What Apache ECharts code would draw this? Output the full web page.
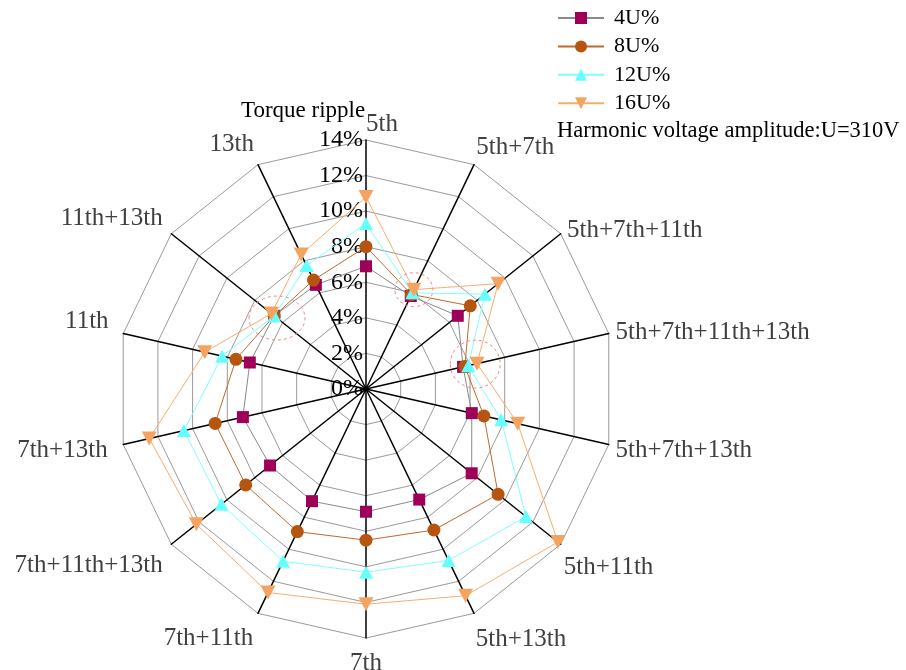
<!DOCTYPE html>
<html><head><meta charset="utf-8">
<script src="https://cdn.jsdelivr.net/npm/echarts@6/dist/echarts.min.js"></script>
<style>html,body{margin:0;padding:0;background:#fff}#c{width:906px;height:670px}</style>
</head><body><div id="c"></div>
<script>
// ---- data ----
const categories = ['5th','5th+7th','5th+7th+11th','5th+7th+11th+13th','5th+7th+13th','5th+11th','5th+13th',
  '7th','7th+11th','7th+11th+13th','7th+13th','11th','11th+13th','13th'];
const seriesNames = ['4U%','8U%','12U%','16U%'];
const u4  = [6.9, 5.8, 6.6, 5.6, 6.1, 7.6, 6.9, 6.9, 7.0, 6.9, 7.1, 6.7, 6.6, 6.5];
const u8  = [8.0, 5.9, 7.5, 5.7, 6.8, 9.5, 8.8, 8.5, 8.9, 8.65, 8.7, 7.5, 6.6, 6.8];
const u12 = [9.3, 6.0, 8.55, 5.9, 7.8, 11.5, 10.7, 10.3, 10.75, 10.4, 10.5, 8.3, 6.6, 7.7];
const u16 = [10.8, 6.2, 9.5, 6.4, 8.75, 13.8, 12.9, 12.1, 12.7, 12.2, 12.5, 9.3, 6.8, 8.4];
const axisMin = 0, axisMax = 14, axisStep = 2;
const titleText = 'Torque ripple';
const noteText = 'Harmonic voltage amplitude:U=310V';
// highlighted clusters (category index, value on that axis)
const highlightCats = [1, 3, 12];
const highlightVals = [6.2, 6.3, 6.4];

// ---- style ----
const FONT = 'Liberation Serif';
const nameLayout = [
  {gap:3,  align:'left',   va:'bottom'},
  {gap:5,  align:'left',   va:'bottom'},
  {gap:8,  align:'left',   va:'top', lh:4},
  {gap:7,  align:'left',   va:'middle'},
  {gap:7,  align:'left',   va:'top', lh:9},
  {gap:4,  align:'left',   va:'top',    pad:[8,0,0,0]},
  {gap:4,  align:'left',   va:'top',    pad:[10,0,0,0]},
  {gap:13, align:'center', va:'top'},
  {gap:11, align:'right',  va:'top',    pad:[3,0,0,0]},
  {gap:11, align:'right',  va:'top',    pad:[2,0,0,0]},
  {gap:16, align:'right',  va:'top', lh:4},
  {gap:15, align:'right',  va:'bottom', lh:18},
  {gap:11, align:'right',  va:'bottom', lh:16},
  {gap:9,  align:'right',  va:'bottom'}
];
const seriesStyle = [
  {symbol:'rect', size:12, rotate:0, marker:'#9E0059', line:'#8a8a8a'},
  {symbol:'circle', size:13, rotate:0, marker:'#B5550F', line:'#C0692E'},
  {symbol:'triangle', size:[14,13], rotate:0, marker:'#66FFFF', line:'#7FFFFF'},
  {symbol:'triangle', size:[15,14], rotate:180, marker:'#F4A460', line:'#F6AE70'}
];
const highlightSize = [[19,17],[25,24],[28,22]];

// ---- build ----
const seriesValues = [u4, u8, u12, u16];
// radar runs counter-clockwise; reorder so categories run clockwise from the top
const order = [0].concat(categories.slice(1).map((_, k) => categories.length - 1 - k));
const toRadarIdx = i => i === 0 ? 0 : categories.length - i;

const indicator = order.map(i => {
  const L = nameLayout[i];
  const ts = {align: L.align, verticalAlign: L.va};
  if (L.pad) ts.padding = L.pad;
  if (L.lh) ts.lineHeight = L.lh;
  return {
    name: categories[i], min: axisMin, max: axisMax,
    nameGap: L.gap,
    nameMoveOverlap: false,
    nameTextStyle: ts,
    axisLabel: i === 0 ? {show: true, color: '#000', fontSize: 24, fontFamily: FONT, margin: 3,
                         formatter: v => v + '%'} : {show: false}
  };
});

const series = [];
seriesNames.forEach((n, k) => {
  const s = seriesStyle[k];
  series.push({
    type: 'line', name: n, data: [], xAxisIndex: 0, yAxisIndex: 0,
    symbol: s.symbol, symbolSize: s.size, symbolRotate: s.rotate,
    itemStyle: {color: s.marker}, lineStyle: {color: s.line, width: 1}
  });
});
seriesNames.forEach((n, k) => {
  const s = seriesStyle[k];
  series.push({
    type: 'radar', name: n, z: 3 + k,
    symbol: s.symbol, symbolSize: s.size, symbolRotate: s.rotate,
    itemStyle: {color: s.marker},
    lineStyle: {color: s.line, width: 1},
    data: [{name: n, value: order.map(i => seriesValues[k][i])}]
  });
});

const chart = echarts.init(document.getElementById('c'), null, {renderer: 'canvas'});
chart.setOption({
  animation: false,
  backgroundColor: '#fff',
  title: [
    {text: titleText, left: 236, top: 94, padding: 5,
     textStyle: {fontFamily: FONT, fontSize: 23, fontWeight: 'normal', color: '#000'}},
    {text: noteText, left: 552, top: 115, padding: 5,
     textStyle: {fontFamily: FONT, fontSize: 22.5, fontWeight: 'normal', color: '#000'}}
  ],
  legend: {
    data: seriesNames, orient: 'vertical', left: 557, top: 7, padding: 0,
    itemWidth: 46, itemHeight: 15, itemGap: 6.4,
    textStyle: {fontFamily: FONT, fontSize: 22, color: '#000', padding: [0,0,0,5]}
  },
  grid: {show: false, left: 0, top: 0, width: 10, height: 10},
  xAxis: {type: 'category', show: false, data: []},
  yAxis: {type: 'value', show: false},
  radar: {
    center: [366, 389], radius: 249, startAngle: 90, shape: 'polygon',
    splitNumber: (axisMax - axisMin) / axisStep,
    axisName: {color: '#404040', fontSize: 25, fontFamily: FONT},
    axisLine: {lineStyle: {color: '#000', width: 1.5}},
    splitLine: {lineStyle: {color: '#9a9a9a', width: 1}},
    splitArea: {show: false},
    axisTick: {show: false},
    axisLabel: {show: false},
    indicator: indicator
  },
  series: series
});

// dashed highlight ellipses placed through the radar coordinate system
try {
  const cs = chart.getModel().getComponent('radar').coordinateSystem;
  const elements = highlightCats.map((c, j) => {
    const p = cs.dataToPoint(highlightVals[j], toRadarIdx(c));
    return {type: 'ellipse', z: 10, silent: true,
      shape: {cx: p[0], cy: p[1], rx: highlightSize[j][0], ry: highlightSize[j][1]},
      style: {fill: 'none', stroke: '#F08A8A', lineWidth: 1, lineDash: [3, 3]}};
  });
  chart.setOption({graphic: elements});
} catch (e) { console.log(e); }
</script>
</body></html>
